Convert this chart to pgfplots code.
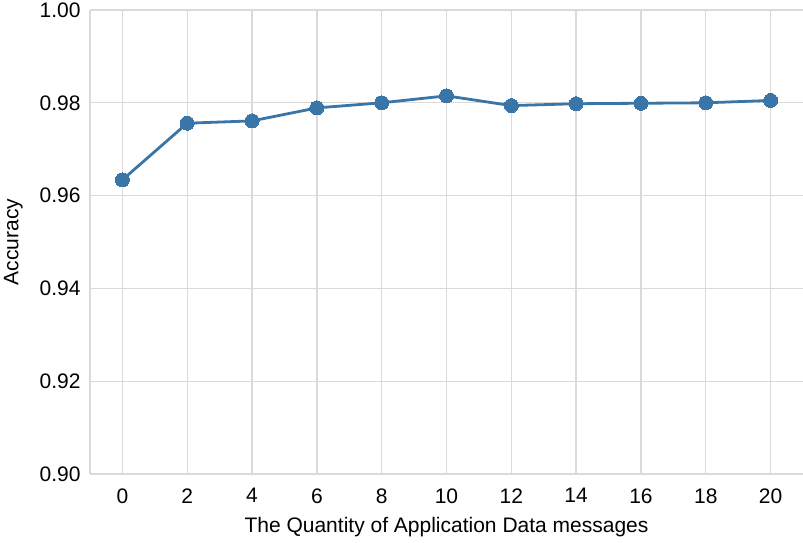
\documentclass[border=0pt]{standalone}
\usepackage{fontspec}
\setmainfont{Liberation Sans}
\usepackage{pgfplots}
\pgfplotsset{compat=1.18}
\definecolor{lineblue}{RGB}{58,117,168}
\definecolor{gridgray}{RGB}{218,218,218}
\begin{document}
\begin{tikzpicture}
\begin{axis}[
  scale only axis,
  width=713pt, height=464pt,
  xmin=-1, xmax=21,
  ymin=0.90, ymax=1.00,
  xtick={0,2,...,20},
  ytick={0.90,0.92,0.94,0.96,0.98,1.00},
  /pgf/number format/assume math mode=true,
  yticklabel style={/pgf/number format/fixed, /pgf/number format/precision=2, /pgf/number format/fixed zerofill, font=\fontsize{21}{24}\selectfont, xshift=-6pt},
  xticklabel style={font=\fontsize{21}{24}\selectfont, yshift=-11pt},
  scaled y ticks=false,
  major tick length=0pt,
  grid=major,
  major grid style={gridgray, line width=1.3pt},
  axis x line*=bottom,
  axis y line*=left,
  axis line style={gridgray, line width=1.3pt},
  xlabel={The Quantity of Application Data messages},
  ylabel={Accuracy},
  label style={font=\fontsize{21}{24}\selectfont},
  xlabel style={yshift=-7pt},
  ylabel style={yshift=10pt},
  every tick label/.append style={text=black},
  clip=false,
]
\addplot[lineblue, line width=2.8pt, mark=*, mark size=7pt, mark options={fill=lineblue, draw=lineblue, line width=0pt}]
coordinates {
(0,0.9634) (2,0.9756) (4,0.9761) (6,0.9789) (8,0.9800) (10,0.9815)
(12,0.9794) (14,0.9798) (16,0.9799) (18,0.9800) (20,0.9805)
};
\end{axis}
\pgfresetboundingbox
\path ([shift={(-90pt,-69pt)}]current axis.south west) rectangle ([shift={(0pt,10pt)}]current axis.north east);
\end{tikzpicture}
\end{document}
